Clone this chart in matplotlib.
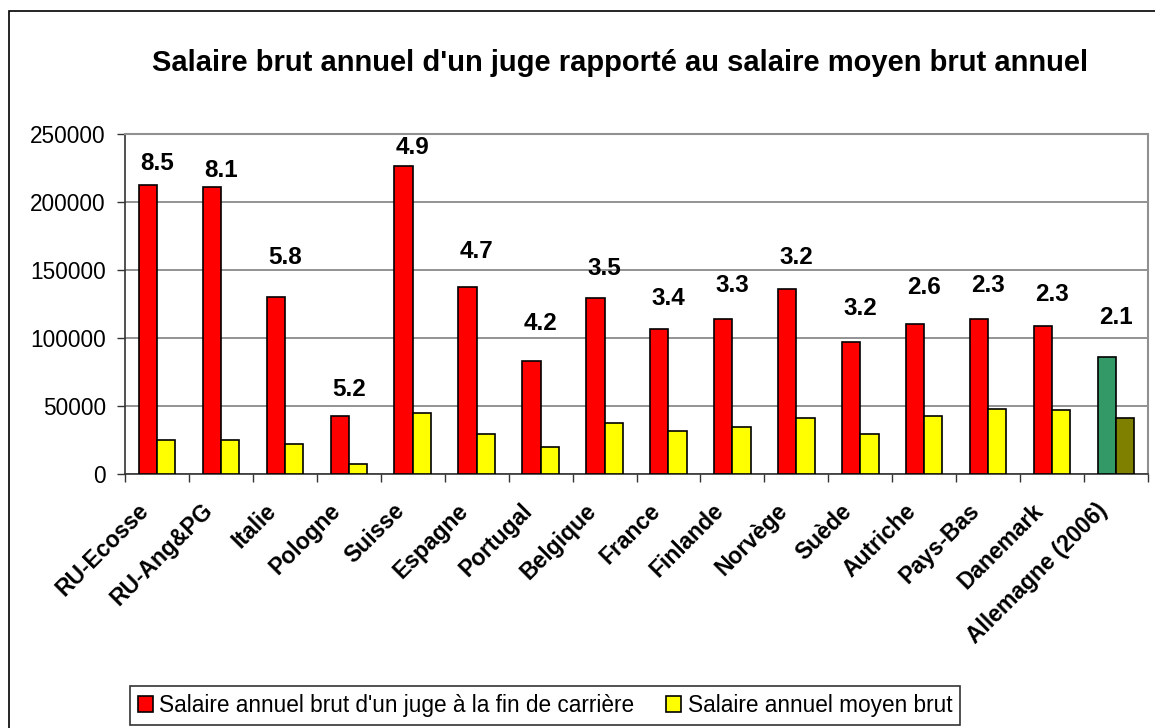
import numpy as np
from matplotlib import pyplot as plt
from matplotlib.patches import Rectangle, Patch
from matplotlib.transforms import ScaledTranslation

plt.rcParams['font.family'] = ['Liberation Sans', 'DejaVu Sans']

# data
pays = ['RU-Ecosse', 'RU-Ang&PG', 'Italie', 'Pologne', 'Suisse', 'Espagne', 'Portugal',
        'Belgique', 'France', 'Finlande', 'Norvège', 'Suède', 'Autriche', 'Pays-Bas',
        'Danemark', 'Allemagne (2006)']
salaire_juge = [213000, 211500, 130500, 43000, 226500, 137500, 83500, 129500,
                106500, 114500, 136000, 97000, 110500, 114500, 109000, 86000]
salaire_moyen = [25000, 25000, 22500, 7800, 45000, 29500, 19800, 37500,
                 32000, 35000, 41500, 29500, 43000, 48000, 47000, 41500]
ratio = ['8.5', '8.1', '5.8', '5.2', '4.9', '4.7', '4.2', '3.5',
         '3.4', '3.3', '3.2', '3.2', '2.6', '2.3', '2.3', '2.1']
# height where each ratio label sits (data units)
ratio_y = [228500, 223500, 159500, 62000, 240500, 163500, 111000, 151000,
           129500, 138500, 159500, 122000, 137000, 138500, 132000, 115500]

titre = "Salaire brut annuel d'un juge rapporté au salaire moyen brut annuel"
leg1 = "Salaire annuel brut d'un juge à la fin de carrière"
leg2 = "Salaire annuel moyen brut"

n = len(pays)
x = np.arange(n)
w = 0.285

col_juge = ['#FF0000'] * (n - 1) + ['#339966']
col_moyen = ['#FFFF00'] * (n - 1) + ['#808000']

fig = plt.figure(figsize=(11.55, 7.28), dpi=100)
ax = fig.add_axes([125 / 1155, 1 - 474.3 / 728, (1148 - 125) / 1155, (474.3 - 134.3) / 728])

ax.bar(x - w / 2, salaire_juge, w, color=col_juge, edgecolor='black', linewidth=1.2, zorder=3)
ax.bar(x + w / 2, salaire_moyen, w, color=col_moyen, edgecolor='black', linewidth=1.2, zorder=3)

for i in range(n):
    ax.text(x[i], ratio_y[i], ratio[i], ha='center', va='center',
            fontsize=17.5, fontweight='bold', zorder=4)

ax.set_xlim(-0.5, n - 0.5)
ax.set_ylim(0, 250000)
ax.set_yticks(np.arange(0, 250001, 50000))
ax.yaxis.grid(True, color='#808080', linewidth=1.2, zorder=0)
ax.tick_params(axis='y', labelsize=16.3, length=6, width=1, color='#333333', pad=7.7)

ax.set_xticks(np.arange(-0.5, n, 1.0))
ax.set_xticklabels([])
ax.tick_params(axis='x', which='major', length=6, width=1, color='#333333')
ax.set_xticks(x, minor=True)
ax.set_xticklabels(pays, minor=True, rotation=45, ha='right', va='top',
                   rotation_mode='anchor', fontsize=16.5, fontweight='bold')
ax.tick_params(axis='x', which='minor', length=0, pad=0)
shift = ScaledTranslation(-20 / 100, -25 / 100, fig.dpi_scale_trans)
for lab in ax.get_xticklabels(minor=True):
    lab.set_transform(lab.get_transform() + shift)

for s in ['top', 'right']:
    ax.spines[s].set_color('#909090')
    ax.spines[s].set_linewidth(1.5)
for s in ['left', 'bottom']:
    ax.spines[s].set_color('#333333')
    ax.spines[s].set_linewidth(1.2)

fig.text(620 / 1155, 1 - 63 / 728, titre, ha='center', va='center',
         fontsize=21, fontweight='bold')

# outer frame of the chart area (cut by the image edges)
fig.patches.append(Rectangle((9 / 1155, -0.1), 1.5, 1 - 11 / 728 + 0.1,
                             transform=fig.transFigure, fill=False,
                             edgecolor='black', linewidth=1.2))

handles = [Patch(facecolor='#FF0000', edgecolor='black', linewidth=1.2),
           Patch(facecolor='#FFFF00', edgecolor='black', linewidth=1.2)]
leg = fig.legend(handles, [leg1, leg2], ncol=2, loc='center',
                 bbox_to_anchor=(545 / 1155, 1 - 705.5 / 728),
                 fontsize=16.3, frameon=True, fancybox=False, edgecolor='black',
                 handlelength=0.65, handleheight=0.65, handletextpad=0.3,
                 columnspacing=1.4, borderpad=0.35, borderaxespad=0)
leg.get_frame().set_linewidth(1.2)

fig.savefig('out.png', dpi=100)
